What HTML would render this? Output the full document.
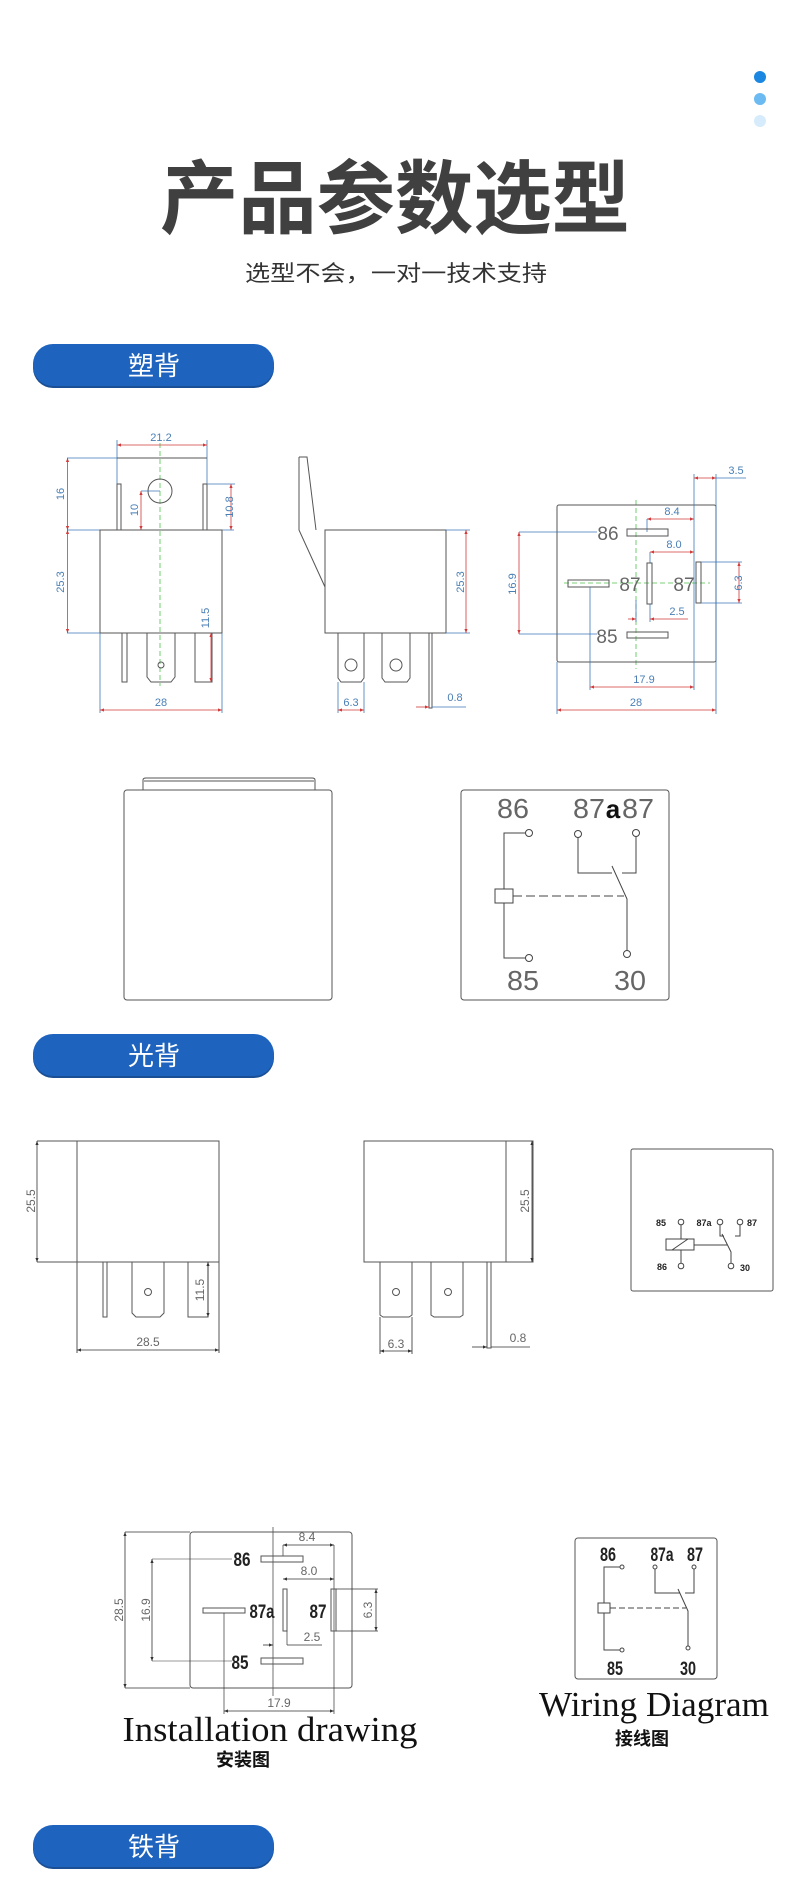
<!DOCTYPE html>
<html><head><meta charset="utf-8"><style>
html,body{margin:0;padding:0;background:#fff;}
svg{display:block;}
.cn{font-family:"Liberation Sans","Noto Sans CJK SC",sans-serif;}
.d{font-family:"Liberation Sans",sans-serif;font-size:11px;fill:#4a7fb5;}
.o{fill:none;stroke:#555;stroke-width:1;}
.e{stroke:#3d78b8;stroke-width:0.8;fill:none;}
.r{stroke:#d23a3a;stroke-width:0.8;fill:none;}
.g{stroke:#4cc24c;stroke-width:0.8;stroke-dasharray:5 3;fill:none;}
.lb{font-family:"Liberation Sans",sans-serif;fill:#666;}
.bd{font-family:"Liberation Sans",sans-serif;font-weight:bold;fill:#222;}
.w{fill:none;stroke:#444;stroke-width:1;}
</style></head><body>
<svg width="790" height="1887" viewBox="0 0 790 1887" xmlns="http://www.w3.org/2000/svg">
<defs>
<marker id="a" viewBox="0 0 10 10" refX="10" refY="5" markerWidth="5" markerHeight="5" orient="auto-start-reverse"><path d="M0,1 L10,5 L0,9z" fill="#d23a3a"/></marker>
<marker id="k" viewBox="0 0 10 10" refX="10" refY="5" markerWidth="5" markerHeight="5" orient="auto-start-reverse"><path d="M0,1 L10,5 L0,9z" fill="#333"/></marker>
</defs>
<!-- dots -->
<circle cx="760" cy="77" r="6" fill="#1b87e0"/>
<circle cx="760" cy="99" r="6" fill="#6cbaf2"/>
<circle cx="760" cy="121" r="6" fill="#d6ebfb"/>
<!-- title -->
<text x="395" y="227" text-anchor="middle" class="cn" font-size="80" font-weight="bold" fill="#404040" textLength="470" lengthAdjust="spacingAndGlyphs">产品参数选型</text>
<text x="396" y="281" text-anchor="middle" class="cn" font-size="22" fill="#333" textLength="302" lengthAdjust="spacingAndGlyphs">选型不会，一对一技术支持</text>
<!-- buttons -->
<g>
<rect x="33" y="345" width="241" height="43" rx="20" fill="#1a4f95"/>
<rect x="33" y="344" width="241" height="42" rx="20" fill="#1e63be"/>
<text x="154" y="375" text-anchor="middle" class="cn" font-size="26" fill="#fff">塑背</text>
<rect x="33" y="1035" width="241" height="43" rx="20" fill="#1a4f95"/>
<rect x="33" y="1034" width="241" height="42" rx="20" fill="#1e63be"/>
<text x="154" y="1065" text-anchor="middle" class="cn" font-size="26" fill="#fff">光背</text>
<rect x="33" y="1826" width="241" height="43" rx="20" fill="#1a4f95"/>
<rect x="33" y="1825" width="241" height="42" rx="20" fill="#1e63be"/>
<text x="154" y="1856" text-anchor="middle" class="cn" font-size="26" fill="#fff">铁背</text>
</g>

<!-- ===== Plastic: front view ===== -->
<g>
<line class="g" x1="160" y1="443" x2="160" y2="686"/>
<line class="e" x1="117" y1="440" x2="117" y2="530"/>
<line class="e" x1="207" y1="440" x2="207" y2="530"/>
<line class="r" x1="117" y1="445" x2="207" y2="445" marker-start="url(#a)" marker-end="url(#a)"/>
<text class="d" x="161" y="441" text-anchor="middle">21.2</text>
<line class="e" x1="67" y1="458" x2="207" y2="458"/>
<line class="o" x1="117" y1="458" x2="207" y2="458"/>
<rect class="o" x="117" y="484" width="4" height="46"/>
<rect class="o" x="203" y="484" width="4" height="46"/>
<line class="e" x1="207" y1="484" x2="235" y2="484"/>
<line class="r" x1="231" y1="484" x2="231" y2="530" marker-start="url(#a)" marker-end="url(#a)"/>
<text class="d" transform="translate(233,507) rotate(-90)" text-anchor="middle">10.8</text>
<ellipse class="o" cx="160" cy="491" rx="12" ry="12"/>
<line class="e" x1="141" y1="491" x2="160" y2="491"/>
<line class="r" x1="141" y1="491" x2="141" y2="530" marker-start="url(#a)" marker-end="url(#a)"/>
<text class="d" transform="translate(138,510) rotate(-90)" text-anchor="middle">10</text>
<line class="r" x1="67.5" y1="458" x2="67.5" y2="530" marker-start="url(#a)" marker-end="url(#a)"/>
<text class="d" transform="translate(64,494) rotate(-90)" text-anchor="middle">16</text>
<line class="e" x1="67" y1="530" x2="234" y2="530" stroke-width="1.2"/>
<rect class="o" x="100" y="530" width="122" height="103"/>
<line class="r" x1="67.5" y1="530" x2="67.5" y2="633" marker-start="url(#a)" marker-end="url(#a)"/>
<line class="e" x1="67" y1="633" x2="100" y2="633"/>
<text class="d" transform="translate(64,582) rotate(-90)" text-anchor="middle">25.3</text>
<rect class="o" x="122" y="633" width="5" height="49"/>
<path class="o" d="M147,633 V677 L151,682 H171 L175,677 V633"/>
<circle class="o" cx="161" cy="665" r="3"/>
<rect class="o" x="195" y="633" width="17" height="49"/>
<line class="r" x1="211" y1="633" x2="211" y2="682" marker-start="url(#a)" marker-end="url(#a)"/>
<text class="d" transform="translate(209,618) rotate(-90)" text-anchor="middle">11.5</text>
<line class="e" x1="100" y1="633" x2="100" y2="713"/>
<line class="e" x1="222" y1="633" x2="222" y2="713"/>
<line class="r" x1="100" y1="710" x2="222" y2="710" marker-start="url(#a)" marker-end="url(#a)"/>
<text class="d" x="161" y="706" text-anchor="middle">28</text>
</g>

<!-- ===== Plastic: side view ===== -->
<g>
<path class="o" d="M299,457 H307 L316,530 M299,457 V530 L325,587"/>
<rect class="o" x="325" y="530" width="121" height="103"/>
<line class="e" x1="446" y1="530" x2="470" y2="530"/>
<line class="e" x1="446" y1="633" x2="470" y2="633"/>
<line class="r" x1="466" y1="530" x2="466" y2="633" marker-start="url(#a)" marker-end="url(#a)"/>
<text class="d" transform="translate(464,582) rotate(-90)" text-anchor="middle">25.3</text>
<path class="o" d="M338,633 V678 L341,682 H361 L364,678 V633"/>
<circle class="o" cx="351" cy="665" r="6"/>
<path class="o" d="M382,633 V678 L385,682 H407 L410,678 V633"/>
<circle class="o" cx="396" cy="665" r="6"/>
<rect class="o" x="429" y="633" width="3" height="75"/>
<line class="e" x1="338" y1="682" x2="338" y2="713"/>
<line class="e" x1="364" y1="682" x2="364" y2="713"/>
<line class="r" x1="338" y1="710" x2="364" y2="710" marker-start="url(#a)" marker-end="url(#a)"/>
<text class="d" x="351" y="706" text-anchor="middle">6.3</text>
<line class="r" x1="416" y1="707" x2="429" y2="707" marker-end="url(#a)"/>
<line class="e" x1="432" y1="707" x2="466" y2="707"/>
<text class="d" x="455" y="701" text-anchor="middle">0.8</text>
</g>

<!-- ===== Plastic: bottom view ===== -->
<g>
<line class="g" x1="636" y1="500" x2="636" y2="669"/>
<line class="g" x1="564" y1="583" x2="710" y2="583"/>
<rect class="o" x="557" y="505" width="159" height="157" rx="2"/>
<line class="e" x1="694" y1="474" x2="694" y2="690"/>
<line class="e" x1="716" y1="474" x2="716" y2="714"/>
<line class="r" x1="694" y1="478" x2="716" y2="478" marker-start="url(#a)" marker-end="url(#a)"/>
<line class="e" x1="716" y1="478" x2="746" y2="478"/>
<text class="d" x="736" y="474" text-anchor="middle">3.5</text>
<line class="e" x1="647" y1="519" x2="647" y2="532"/>
<line class="r" x1="647" y1="519" x2="694" y2="519" marker-start="url(#a)" marker-end="url(#a)"/>
<text class="d" x="672" y="515" text-anchor="middle">8.4</text>
<rect class="o" x="627" y="529" width="41" height="7"/>
<text class="lb" x="608" y="540" font-size="19" text-anchor="middle">86</text>
<line class="e" x1="519" y1="532" x2="597" y2="532"/>
<line class="e" x1="650" y1="552" x2="650" y2="563"/>
<line class="r" x1="650" y1="552" x2="694" y2="552" marker-start="url(#a)" marker-end="url(#a)"/>
<text class="d" x="674" y="548" text-anchor="middle">8.0</text>
<rect class="o" x="647" y="563" width="5" height="41"/>
<text class="lb" x="630" y="591" font-size="19" text-anchor="middle">87</text>
<rect class="o" x="568" y="580" width="41" height="7"/>
<text class="lb" x="684" y="591" font-size="19" text-anchor="middle">87</text>
<rect class="o" x="696" y="562" width="5" height="41"/>
<line class="e" x1="701" y1="562" x2="742" y2="562"/>
<line class="e" x1="701" y1="603" x2="742" y2="603"/>
<line class="r" x1="739" y1="562" x2="739" y2="603" marker-start="url(#a)" marker-end="url(#a)"/>
<text class="d" transform="translate(742,583) rotate(-90)" text-anchor="middle">6.3</text>
<line class="r" x1="519" y1="532" x2="519" y2="634" marker-start="url(#a)" marker-end="url(#a)"/>
<text class="d" transform="translate(516,584) rotate(-90)" text-anchor="middle">16.9</text>
<rect class="o" x="627" y="632" width="41" height="6"/>
<text class="lb" x="607" y="643" font-size="19" text-anchor="middle">85</text>
<line class="e" x1="519" y1="634" x2="597" y2="634"/>
<line class="e" x1="636" y1="600" x2="636" y2="622"/>
<line class="e" x1="650" y1="604" x2="650" y2="622"/>
<line class="r" x1="628" y1="619" x2="636" y2="619" marker-end="url(#a)"/>
<line class="r" x1="688" y1="619" x2="650" y2="619" marker-end="url(#a)"/>
<text class="d" x="677" y="615" text-anchor="middle">2.5</text>
<line class="e" x1="590" y1="587" x2="590" y2="690"/>
<line class="r" x1="590" y1="687" x2="694" y2="687" marker-start="url(#a)" marker-end="url(#a)"/>
<text class="d" x="644" y="683" text-anchor="middle">17.9</text>
<line class="e" x1="557" y1="662" x2="557" y2="714"/>
<line class="r" x1="557" y1="710" x2="716" y2="710" marker-start="url(#a)" marker-end="url(#a)"/>
<text class="d" x="636" y="706" text-anchor="middle">28</text>
</g>

<!-- ===== Plastic: second row ===== -->
<g>
<path class="o" d="M143,790 V780 Q143,778 146,778 H312 Q315,778 315,780 V790"/>
<line class="o" x1="144" y1="781" x2="314" y2="781"/>
<rect class="o" x="124" y="790" width="208" height="210" rx="3"/>
<rect class="o" x="461" y="790" width="208" height="210" rx="3"/>
<text class="lb" x="513" y="818" font-size="28" text-anchor="middle" textLength="32" lengthAdjust="spacingAndGlyphs">86</text>
<text class="lb" x="589" y="818" font-size="28" text-anchor="middle" textLength="32" lengthAdjust="spacingAndGlyphs">87</text>
<text x="613" y="818" font-size="26" font-weight="bold" fill="#111" font-family="Liberation Sans,sans-serif" text-anchor="middle">a</text>
<text class="lb" x="638" y="818" font-size="28" text-anchor="middle" textLength="32" lengthAdjust="spacingAndGlyphs">87</text>
<text class="lb" x="523" y="990" font-size="28" text-anchor="middle" textLength="32" lengthAdjust="spacingAndGlyphs">85</text>
<text class="lb" x="630" y="990" font-size="28" text-anchor="middle" textLength="32" lengthAdjust="spacingAndGlyphs">30</text>
<circle class="w" cx="529" cy="833" r="3.5" fill="#fff"/>
<circle class="w" cx="578" cy="834" r="3.5" fill="#fff"/>
<circle class="w" cx="636" cy="833" r="3.5" fill="#fff"/>
<circle class="w" cx="529" cy="958" r="3.5" fill="#fff"/>
<circle class="w" cx="627" cy="954" r="3.5" fill="#fff"/>
<path class="w" d="M525.5,833 H504 V958 H525.5"/>
<rect x="495" y="889" width="18" height="14" fill="#fff" stroke="#444"/>
<line class="w" x1="513" y1="896" x2="624" y2="896" stroke-dasharray="9 4"/>
<path class="w" d="M578,837.5 V873 H612 M636,836.5 V873 H622"/>
<path class="w" d="M612,866 L627,899 V950.5"/>
</g>

<!-- ===== Light back row ===== -->
<g>
<rect class="o" x="77" y="1141" width="142" height="121"/>
<line class="o" x1="37" y1="1141" x2="77" y2="1141"/>
<line class="o" x1="37" y1="1262" x2="77" y2="1262"/>
<line x1="37" y1="1141" x2="37" y2="1262" stroke="#333" stroke-width="0.8" marker-start="url(#k)" marker-end="url(#k)"/>
<text class="lb" transform="translate(35,1201) rotate(-90)" font-size="12" text-anchor="middle">25.5</text>
<rect class="o" x="103" y="1262" width="4" height="55"/>
<path class="o" d="M132,1262 V1313 L136,1317 H160 L164,1313 V1262"/>
<circle class="o" cx="148" cy="1292" r="3.5"/>
<rect class="o" x="188" y="1262" width="20" height="55"/>
<line x1="208" y1="1262" x2="208" y2="1317" stroke="#333" stroke-width="0.8" marker-start="url(#k)" marker-end="url(#k)"/>
<text class="lb" transform="translate(204,1290) rotate(-90)" font-size="12" text-anchor="middle">11.5</text>
<line class="o" x1="77" y1="1262" x2="77" y2="1353"/>
<line class="o" x1="219" y1="1262" x2="219" y2="1353"/>
<line x1="77" y1="1350" x2="219" y2="1350" stroke="#333" stroke-width="0.8" marker-start="url(#k)" marker-end="url(#k)"/>
<text class="lb" x="148" y="1346" font-size="12" text-anchor="middle">28.5</text>

<rect class="o" x="364" y="1141" width="169" height="121"/>
<line class="o" x1="506" y1="1141" x2="506" y2="1262"/>
<line x1="532" y1="1141" x2="532" y2="1262" stroke="#333" stroke-width="0.8" marker-start="url(#k)" marker-end="url(#k)"/>
<text class="lb" transform="translate(529,1201) rotate(-90)" font-size="12" text-anchor="middle">25.5</text>
<path class="o" d="M380,1262 V1315 L383,1317 H409 L412,1315 V1262"/>
<circle class="o" cx="396" cy="1292" r="3.5"/>
<path class="o" d="M431,1262 V1315 L434,1317 H460 L463,1315 V1262"/>
<circle class="o" cx="448" cy="1292" r="3.5"/>
<rect class="o" x="487" y="1262" width="4" height="86"/>
<line class="o" x1="380" y1="1317" x2="380" y2="1354"/>
<line class="o" x1="412" y1="1317" x2="412" y2="1354"/>
<line x1="380" y1="1351" x2="412" y2="1351" stroke="#333" stroke-width="0.8" marker-start="url(#k)" marker-end="url(#k)"/>
<text class="lb" x="396" y="1348" font-size="12" text-anchor="middle">6.3</text>
<line x1="472" y1="1347" x2="487" y2="1347" stroke="#333" stroke-width="0.8" marker-end="url(#k)"/>
<line x1="491" y1="1347" x2="530" y2="1347" stroke="#333" stroke-width="0.8"/>
<text class="lb" x="518" y="1342" font-size="12" text-anchor="middle">0.8</text>

<rect class="o" x="631" y="1149" width="142" height="142" rx="2"/>
<text class="bd" x="661" y="1226" font-size="9" text-anchor="middle">85</text>
<text class="bd" x="704" y="1226" font-size="9" text-anchor="middle">87a</text>
<text class="bd" x="752" y="1226" font-size="9" text-anchor="middle">87</text>
<text class="bd" x="662" y="1270" font-size="9" text-anchor="middle">86</text>
<text class="bd" x="745" y="1271" font-size="9" text-anchor="middle">30</text>
<circle class="w" cx="681" cy="1222" r="2.8" fill="#fff"/>
<circle class="w" cx="720" cy="1222" r="2.8" fill="#fff"/>
<circle class="w" cx="740" cy="1222" r="2.8" fill="#fff"/>
<circle class="w" cx="681" cy="1266" r="2.8" fill="#fff"/>
<circle class="w" cx="731" cy="1266" r="2.8" fill="#fff"/>
<path class="w" d="M681,1225 V1239 M681,1250 V1263"/>
<rect x="666" y="1239" width="28" height="11" fill="#fff" stroke="#444"/>
<line class="w" x1="672" y1="1250" x2="688" y2="1239"/>
<line class="w" x1="694" y1="1245" x2="727" y2="1245"/>
<path class="w" d="M720,1225 V1236 H724 M740,1225 V1236 H735"/>
<path class="w" d="M722,1234 L731,1252 V1263"/>
</g>

<!-- ===== Installation drawing ===== -->
<g>
<line x1="273" y1="1527" x2="273" y2="1696" stroke="#333" stroke-width="0.7"/>
<rect class="o" x="190" y="1532" width="162" height="156" rx="3"/>
<line x1="125" y1="1532" x2="190" y2="1532" stroke="#333" stroke-width="0.7"/>
<line x1="125" y1="1688" x2="190" y2="1688" stroke="#333" stroke-width="0.7"/>
<line x1="125" y1="1532" x2="125" y2="1688" stroke="#333" stroke-width="0.8" marker-start="url(#k)" marker-end="url(#k)"/>
<text class="lb" transform="translate(123,1610) rotate(-90)" font-size="12" text-anchor="middle" fill="#555">28.5</text>
<line x1="283" y1="1545" x2="283" y2="1556" stroke="#333" stroke-width="0.7"/>
<line x1="334" y1="1545" x2="334" y2="1714" stroke="#333" stroke-width="0.7"/>
<line x1="283" y1="1545" x2="334" y2="1545" stroke="#333" stroke-width="0.8" marker-start="url(#k)" marker-end="url(#k)"/>
<text class="lb" x="307" y="1541" font-size="12" text-anchor="middle">8.4</text>
<rect class="o" x="261" y="1556" width="42" height="6"/>
<text class="bd" x="242" y="1566" font-size="19" text-anchor="middle" textLength="17" lengthAdjust="spacingAndGlyphs">86</text>
<line x1="152" y1="1559" x2="232" y2="1559" stroke="#333" stroke-width="0.6"/>
<line x1="152" y1="1559" x2="152" y2="1661" stroke="#333" stroke-width="0.8" marker-start="url(#k)" marker-end="url(#k)"/>
<text class="lb" transform="translate(150,1610) rotate(-90)" font-size="12" text-anchor="middle">16.9</text>
<line x1="283" y1="1579" x2="334" y2="1579" stroke="#333" stroke-width="0.8" marker-start="url(#k)" marker-end="url(#k)"/>
<text class="lb" x="309" y="1575" font-size="12" text-anchor="middle">8.0</text>
<rect class="o" x="203" y="1608" width="42" height="5"/>
<text class="bd" x="262" y="1618" font-size="19" text-anchor="middle" textLength="25" lengthAdjust="spacingAndGlyphs">87a</text>
<rect class="o" x="283" y="1589" width="4" height="42"/>
<text class="bd" x="318" y="1618" font-size="19" text-anchor="middle" textLength="17" lengthAdjust="spacingAndGlyphs">87</text>
<rect class="o" x="331" y="1589" width="5" height="42"/>
<line x1="336" y1="1589" x2="378" y2="1589" stroke="#333" stroke-width="0.7"/>
<line x1="336" y1="1631" x2="378" y2="1631" stroke="#333" stroke-width="0.7"/>
<line x1="376" y1="1589" x2="376" y2="1631" stroke="#333" stroke-width="0.8" marker-start="url(#k)" marker-end="url(#k)"/>
<text class="lb" transform="translate(372,1610) rotate(-90)" font-size="12" text-anchor="middle">6.3</text>
<line x1="263" y1="1645" x2="273" y2="1645" stroke="#333" stroke-width="0.8" marker-end="url(#k)"/>
<line x1="287" y1="1645" x2="322" y2="1645" stroke="#333" stroke-width="0.7"/>
<line x1="287" y1="1631" x2="287" y2="1645" stroke="#333" stroke-width="0.7"/>
<text class="lb" x="312" y="1641" font-size="12" text-anchor="middle">2.5</text>
<rect class="o" x="261" y="1658" width="42" height="6"/>
<text class="bd" x="240" y="1669" font-size="19" text-anchor="middle" textLength="17" lengthAdjust="spacingAndGlyphs">85</text>
<line x1="152" y1="1661" x2="232" y2="1661" stroke="#333" stroke-width="0.6"/>
<line x1="224" y1="1613" x2="224" y2="1714" stroke="#333" stroke-width="0.7"/>
<line x1="224" y1="1711" x2="334" y2="1711" stroke="#333" stroke-width="0.8" marker-start="url(#k)" marker-end="url(#k)"/>
<text class="lb" x="279" y="1707" font-size="12" text-anchor="middle">17.9</text>
<text x="270" y="1741" font-family="Liberation Serif,serif" font-size="35" fill="#111" text-anchor="middle" textLength="295" lengthAdjust="spacingAndGlyphs">Installation drawing</text>
<text x="243" y="1766" class="cn" font-size="18" font-weight="bold" fill="#111" text-anchor="middle">安装图</text>
</g>

<!-- ===== Wiring Diagram ===== -->
<g>
<rect class="o" x="575" y="1538" width="142" height="141" rx="3"/>
<text class="bd" x="608" y="1561" font-size="19" text-anchor="middle" textLength="16" lengthAdjust="spacingAndGlyphs">86</text>
<text class="bd" x="662" y="1561" font-size="19" text-anchor="middle" textLength="23" lengthAdjust="spacingAndGlyphs">87a</text>
<text class="bd" x="695" y="1561" font-size="19" text-anchor="middle" textLength="16" lengthAdjust="spacingAndGlyphs">87</text>
<text class="bd" x="615" y="1675" font-size="19" text-anchor="middle" textLength="16" lengthAdjust="spacingAndGlyphs">85</text>
<text class="bd" x="688" y="1675" font-size="19" text-anchor="middle" textLength="16" lengthAdjust="spacingAndGlyphs">30</text>
<circle class="w" cx="622" cy="1567" r="2" fill="#fff"/>
<circle class="w" cx="655" cy="1567" r="2" fill="#fff"/>
<circle class="w" cx="694" cy="1567" r="2" fill="#fff"/>
<circle class="w" cx="622" cy="1650" r="2" fill="#fff"/>
<circle class="w" cx="688" cy="1648" r="2" fill="#fff"/>
<path class="w" d="M620,1567 H604 V1650 H620"/>
<rect x="598" y="1603" width="12" height="10" fill="#fff" stroke="#444"/>
<line class="w" x1="610" y1="1608" x2="686" y2="1608" stroke-dasharray="6 3"/>
<path class="w" d="M655,1569 V1593 H680 M694,1569 V1593 H685"/>
<path class="w" d="M678,1589 L688,1611 V1646"/>
<text x="654" y="1716" font-family="Liberation Serif,serif" font-size="35" fill="#111" text-anchor="middle" textLength="230" lengthAdjust="spacingAndGlyphs">Wiring Diagram</text>
<text x="642" y="1745" class="cn" font-size="18" font-weight="bold" fill="#111" text-anchor="middle">接线图</text>
</g>
</svg>
</body></html>
